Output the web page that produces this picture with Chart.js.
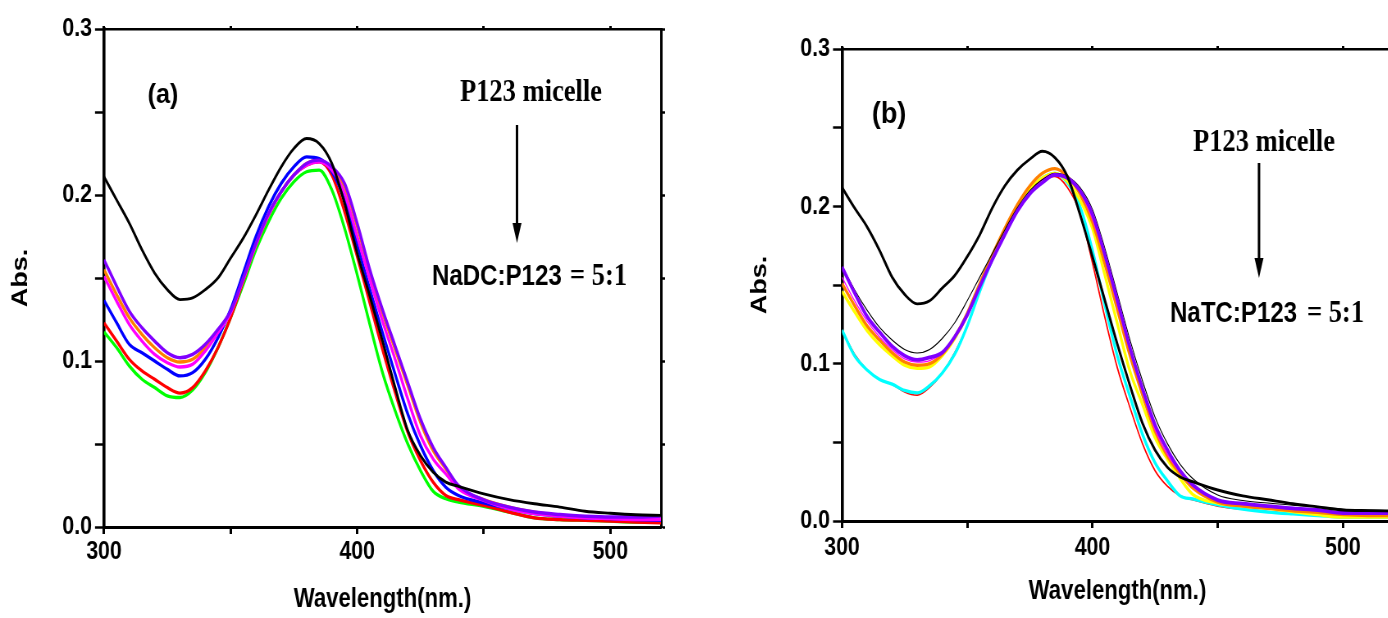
<!DOCTYPE html>
<html>
<head>
<meta charset="utf-8">
<script src="https://cdn.jsdelivr.net/npm/chart.js@4"></script>
<style>
  html, body { margin: 0; padding: 0; background: #fff; overflow: hidden; width: 1388px; height: 618px; }
  /* the charts are drawn wide and squeezed, which gives the narrow lettering of the original */
  .panel { position: absolute; top: 0; transform-origin: 0 0; }
</style>
</head>
<body>
<div class="panel" id="panel-a" style="left:0"><canvas id="chart-a"></canvas></div>
<div class="panel" id="panel-b" style="left:740px"><canvas id="chart-b"></canvas></div>
<script>
// Wavelength grid (nm) shared by every spectrum
const wavelengths = [300, 305, 310, 315, 320, 325, 330, 335, 340, 345, 350, 355, 360, 365, 370, 375, 380, 385, 390, 395,
  400, 405, 410, 415, 420, 425, 430, 435, 440, 450, 460, 470, 480, 490, 500, 510, 520];

const xTicks = [300, 400, 500];
const yTicks = [0.0, 0.1, 0.2, 0.3];

// Panel (a): NaDC
const aBlack   = [0.211, 0.197, 0.183, 0.167, 0.153, 0.143, 0.137, 0.138, 0.143, 0.150, 0.162, 0.174, 0.188, 0.203, 0.217, 0.228, 0.234, 0.231, 0.219, 0.195,
  0.165, 0.139, 0.112, 0.084, 0.058, 0.043, 0.033, 0.027, 0.0245, 0.020, 0.0165, 0.014, 0.012, 0.0095, 0.0083, 0.0074, 0.007];
const aPurple  = [0.161, 0.145, 0.130, 0.120, 0.112, 0.105, 0.102, 0.104, 0.110, 0.119, 0.130, 0.150, 0.171, 0.189, 0.202, 0.212, 0.219, 0.221, 0.217, 0.207,
  0.183, 0.155, 0.131, 0.109, 0.087, 0.065, 0.048, 0.036, 0.025, 0.0163, 0.012, 0.009, 0.0075, 0.0065, 0.006, 0.006, 0.0066];
const aOrange  = [0.155, 0.140, 0.126, 0.116, 0.108, 0.102, 0.0994, 0.101, 0.108, 0.118, 0.129, 0.149, 0.170, 0.188, 0.202, 0.212, 0.219, 0.221, 0.216, 0.205,
  0.181, 0.153, 0.129, 0.107, 0.085, 0.063, 0.046, 0.035, 0.024, 0.0165, 0.012, 0.009, 0.007, 0.006, 0.0055, 0.005, 0.005];
const aMagenta = [0.151, 0.136, 0.122, 0.112, 0.104, 0.099, 0.0964, 0.098, 0.106, 0.117, 0.129, 0.149, 0.170, 0.188, 0.202, 0.212, 0.218, 0.220, 0.215, 0.201,
  0.175, 0.149, 0.124, 0.101, 0.077, 0.055, 0.041, 0.032, 0.023, 0.016, 0.011, 0.008, 0.0065, 0.0055, 0.005, 0.0045, 0.0045];
const aBlue    = [0.1365, 0.123, 0.110, 0.105, 0.100, 0.095, 0.091, 0.093, 0.101, 0.114, 0.131, 0.153, 0.175, 0.193, 0.207, 0.217, 0.223, 0.222, 0.214, 0.197,
  0.170, 0.143, 0.117, 0.092, 0.068, 0.049, 0.034, 0.024, 0.019, 0.0145, 0.011, 0.008, 0.0065, 0.0055, 0.005, 0.0045, 0.004];
const aRed     = [0.123, 0.112, 0.101, 0.094, 0.089, 0.084, 0.0807, 0.084, 0.094, 0.108, 0.126, 0.148, 0.170, 0.188, 0.202, 0.212, 0.218, 0.220, 0.212, 0.190,
  0.163, 0.135, 0.107, 0.081, 0.057, 0.040, 0.027, 0.019, 0.0165, 0.013, 0.009, 0.0055, 0.0045, 0.004, 0.0036, 0.003, 0.0025];
const aGreen   = [0.1175, 0.108, 0.097, 0.089, 0.084, 0.079, 0.078, 0.0825, 0.093, 0.108, 0.126, 0.146, 0.167, 0.184, 0.198, 0.208, 0.214, 0.215, 0.203, 0.180,
  0.152, 0.122, 0.093, 0.070, 0.050, 0.034, 0.0215, 0.017, 0.015, 0.0125, 0.009, 0.0055, 0.0045, 0.004, 0.0035, 0.003, 0.003];

// Panel (b): NaTC
const bBlack     = [0.212, 0.199, 0.187, 0.172, 0.155, 0.144, 0.138, 0.140, 0.148, 0.156, 0.168, 0.182, 0.199, 0.213, 0.223, 0.230, 0.235, 0.231, 0.219, 0.195,
  0.168, 0.140, 0.112, 0.086, 0.062, 0.045, 0.034, 0.028, 0.025, 0.0197, 0.016, 0.0135, 0.011, 0.009, 0.007, 0.0066, 0.0064];
const bThinBlack = [0.162, 0.147, 0.134, 0.123, 0.115, 0.109, 0.1068, 0.109, 0.116, 0.126, 0.140, 0.155, 0.170, 0.185, 0.199, 0.210, 0.217, 0.221, 0.219, 0.212,
  0.198, 0.173, 0.144, 0.115, 0.089, 0.066, 0.049, 0.036, 0.027, 0.0165, 0.013, 0.0114, 0.010, 0.009, 0.0075, 0.007, 0.0065];
const bPurple    = [0.1615, 0.145, 0.130, 0.120, 0.111, 0.105, 0.1024, 0.104, 0.107, 0.117, 0.131, 0.149, 0.166, 0.182, 0.197, 0.208, 0.215, 0.220, 0.218, 0.210,
  0.195, 0.169, 0.140, 0.110, 0.084, 0.061, 0.045, 0.032, 0.023, 0.0133, 0.011, 0.0095, 0.008, 0.007, 0.0051, 0.005, 0.005];
const bMagenta   = [0.155, 0.140, 0.127, 0.117, 0.109, 0.103, 0.101, 0.102, 0.107, 0.117, 0.131, 0.149, 0.166, 0.183, 0.198, 0.209, 0.217, 0.221, 0.218, 0.209,
  0.192, 0.167, 0.137, 0.108, 0.082, 0.058, 0.042, 0.031, 0.022, 0.013, 0.0105, 0.009, 0.0075, 0.0065, 0.005, 0.0045, 0.0045];
const bOrange    = [0.151, 0.137, 0.124, 0.115, 0.107, 0.101, 0.099, 0.100, 0.106, 0.117, 0.132, 0.151, 0.169, 0.186, 0.201, 0.213, 0.221, 0.224, 0.219, 0.208,
  0.190, 0.163, 0.134, 0.105, 0.080, 0.057, 0.041, 0.030, 0.021, 0.012, 0.0095, 0.008, 0.0065, 0.0055, 0.004, 0.0035, 0.0035];
const bYellow    = [0.146, 0.133, 0.121, 0.112, 0.105, 0.099, 0.097, 0.098, 0.105, 0.116, 0.131, 0.150, 0.168, 0.185, 0.200, 0.211, 0.218, 0.221, 0.216, 0.204,
  0.186, 0.156, 0.125, 0.095, 0.074, 0.053, 0.039, 0.027, 0.017, 0.0114, 0.0095, 0.008, 0.006, 0.004, 0.0025, 0.0025, 0.0025];
const bCyan      = [0.1214, 0.105, 0.096, 0.090, 0.087, 0.083, 0.0814, 0.086, 0.094, 0.106, 0.124, 0.146, 0.166, 0.183, 0.198, 0.210, 0.218, 0.221, 0.215, 0.200,
  0.172, 0.137, 0.1045, 0.079, 0.055, 0.037, 0.0254, 0.016, 0.014, 0.0102, 0.0075, 0.0057, 0.0045, 0.0035, 0.0025, 0.0025, 0.0025];
const bRed       = [0.121, 0.106, 0.096, 0.090, 0.087, 0.082, 0.080, 0.085, 0.094, 0.107, 0.124, 0.147, 0.167, 0.184, 0.199, 0.211, 0.218, 0.219, 0.212, 0.196,
  0.164, 0.129, 0.097, 0.072, 0.049, 0.032, 0.022, 0.016, 0.0135, 0.0095, 0.0075, 0.006, 0.005, 0.004, 0.003, 0.003, 0.003];

const SANS = '"Liberation Sans", Arial, sans-serif';
const SERIF = '"Liberation Serif", "Times New Roman", serif';
const K = 0.82;       // horizontal squeeze of each panel
const PANEL_W = 680;  // on-screen width of a panel
const PANEL_H = 618;

function series(values, color, width) {
  return {
    data: wavelengths.map((w, i) => ({ x: w, y: values[i] })),
    borderColor: color,
    borderWidth: width,
    pointRadius: 0,
    cubicInterpolationMode: 'monotone',
    fill: false,
  };
}

// Text and arrow drawn on top of the plot, given in on-screen pixels
function notesPlugin(notes) {
  return {
    id: 'notes',
    afterDraw(chart) {
      const ctx = chart.ctx;
      notes.forEach(n => {
        ctx.save();
        ctx.scale(1 / K, 1);
        ctx.fillStyle = '#000';
        ctx.strokeStyle = '#000';
        if (n.arrow) {
          const [x, y1, y2] = n.arrow;
          ctx.lineWidth = 2.5;
          ctx.beginPath();
          ctx.moveTo(x, y1);
          ctx.lineTo(x, y2 - 16);
          ctx.stroke();
          ctx.beginPath();
          ctx.moveTo(x - 4.5, y2 - 20);
          ctx.lineTo(x + 4.5, y2 - 20);
          ctx.lineTo(x, y2);
          ctx.closePath();
          ctx.fill();
        } else {
          ctx.font = n.font;
          ctx.textAlign = n.align || 'left';
          ctx.textBaseline = 'alphabetic';
          ctx.translate(n.x, n.y);
          ctx.scale(n.sx || 1, 1);
          ctx.fillText(n.text, 0, 0);
        }
        ctx.restore();
      });
    }
  };
}

// box: on-screen plot edges relative to the panel
function makeChart(id, datasets, box, notes) {
  const el = document.getElementById(id);
  const w = Math.round(PANEL_W / K);
  el.width = w;
  el.height = PANEL_H;
  el.parentElement.style.transform = `scaleX(${K})`;

  const tickFont = { family: SANS, size: 26, weight: 'bold', lineHeight: 1 };
  const titleFont = { family: SANS, size: 27, weight: 'bold', lineHeight: 1.2 };
  const axisGrid = (len, width) => ({ drawOnChartArea: false, color: '#000', tickLength: len, tickWidth: width });
  return new Chart(el, {
    type: 'line',
    data: { datasets },
    options: {
      responsive: false,
      animation: false,
      devicePixelRatio: 1,
      layout: { padding: { left: 0, top: box.top, right: w - box.right / K, bottom: 0 } },
      plugins: { legend: { display: false }, tooltip: { enabled: false } },
      scales: {
        x: {
          type: 'linear', position: 'bottom', min: 300, max: 520,
          grid: axisGrid(7, 3),
          border: { color: '#000', width: 3 },
          ticks: {
            stepSize: 50, includeBounds: false, color: '#000', font: tickFont, padding: box.xPad, maxRotation: 0,
            callback: v => xTicks.includes(v) ? String(v) : ''
          },
          title: { display: true, text: 'Wavelength(nm.)', color: '#000', font: titleFont, padding: { top: 0, bottom: box.xTitle } },
          afterFit: s => { s.height = PANEL_H - box.bottom; }
        },
        y: {
          type: 'linear', position: 'left', min: 0, max: 0.3,
          grid: axisGrid(9 / K, 2.5),
          border: { color: '#000', width: 3.6 },
          ticks: {
            stepSize: 0.05, color: '#000', font: tickFont, padding: 3 / K,
            callback: v => yTicks.some(t => Math.abs(t - v) < 1e-6) ? v.toFixed(1) : ''
          },
          title: { display: true, text: 'Abs.', color: '#000', font: titleFont, padding: { top: box.yTitle / K - 16.2, bottom: 0 } },
          afterFit: s => { s.width = box.left / K; }
        },
        x2: {
          type: 'linear', position: 'top', min: 300, max: 520,
          grid: axisGrid(3, 3),
          border: { color: '#000', width: 2.5 },
          ticks: { stepSize: 50, includeBounds: false, display: false },
          afterFit: s => { s.height = 0; }
        },
        y2: {
          type: 'linear', position: 'right', min: 0, max: 0.3,
          grid: axisGrid(4 / K, 2.5),
          border: { color: '#000', width: 3 },
          ticks: { stepSize: 0.05, display: false },
          afterFit: s => { s.width = 0; }
        }
      }
    },
    plugins: [notesPlugin(notes)]
  });
}

// Panel (a)
makeChart('chart-a', [
  series(aBlack, '#000000', 2.9),
  series(aPurple, '#8000ff', 3.4),
  series(aMagenta, '#ff00ff', 3.3),
  series(aBlue, '#0000ff', 3.3),
  series(aOrange, '#ff8000', 3.3),
  series(aRed, '#ff0000', 3.3),
  series(aGreen, '#00ff00', 3.3),
], { left: 104, right: 661, top: 29, bottom: 527, xPad: 5, xTitle: 2, yTitle: 21 }, [
  { text: '(a)', x: 163, y: 103, align: 'center', font: 'bold 28px ' + SANS, sx: 0.9 },
  { text: 'P123 micelle', x: 531, y: 101, align: 'center', font: 'bold 31px ' + SERIF, sx: 0.855 },
  { arrow: [517, 125, 243] },
  { text: 'NaDC:P123', x: 432, y: 285, font: 'bold 29px ' + SANS, sx: 0.83 },
  { text: '= 5:1', x: 570, y: 285, font: 'bold 31px ' + SERIF, sx: 0.855 },
]);

// Panel (b)
makeChart('chart-b', [
  series(bBlack, '#000000', 2.9),
  series(bPurple, '#8000ff', 3.8),
  series(bThinBlack, '#000000', 1.1),
  series(bMagenta, '#ff00ff', 1.3),
  series(bOrange, '#ff8000', 3.3),
  series(bYellow, '#ffff00', 3.3),
  series(bCyan, '#00ffff', 3.3),
  series(bRed, '#ff0000', 1.7),
], { left: 102, right: 653, top: 49, bottom: 521, xPad: 7, xTitle: 10, yTitle: 20 }, [
  { text: '(b)', x: 149, y: 123, align: 'center', font: 'bold 30px ' + SANS, sx: 0.9 },
  { text: 'P123 micelle', x: 524, y: 151, align: 'center', font: 'bold 31px ' + SERIF, sx: 0.855 },
  { arrow: [519, 163, 278] },
  { text: 'NaTC:P123', x: 430, y: 322, font: 'bold 29px ' + SANS, sx: 0.83 },
  { text: '= 5:1', x: 567, y: 322, font: 'bold 31px ' + SERIF, sx: 0.855 },
]);
</script>
</body>
</html>
